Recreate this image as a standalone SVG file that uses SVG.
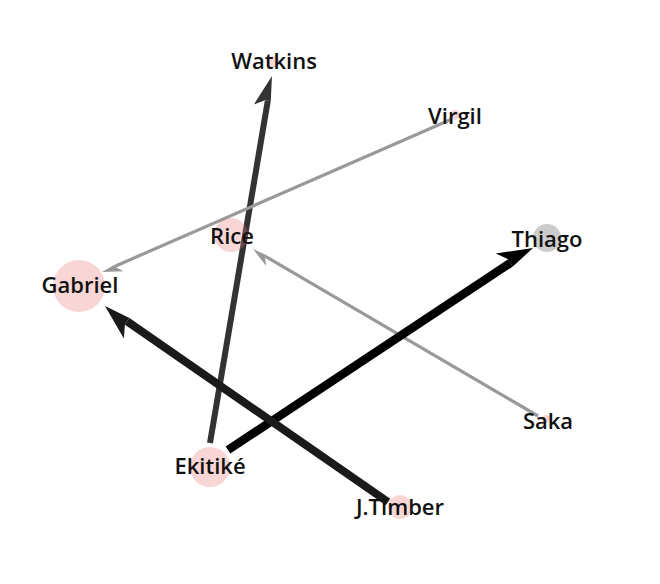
<svg xmlns="http://www.w3.org/2000/svg" width="660" height="584" viewBox="0 0 660 584">
<style>
.lbl{font-family:"Open Sans","Lato","Liberation Sans",sans-serif;font-size:22px;font-weight:600;fill:#111;text-anchor:middle}
.pink{fill:rgb(232,120,115);fill-opacity:0.3}
.grey{fill:#999;fill-opacity:0.5}
.e{fill:none;stroke-linecap:butt}
</style>
<defs>
<marker id="aDark" markerUnits="userSpaceOnUse" viewBox="-36 -18 38 36" refX="-25" refY="0" markerWidth="38" markerHeight="36" orient="auto">
<path d="M0,0 L-31,-13 L-25,-3 L-25,3 Z" fill="#333"/>
</marker>
<marker id="aBlack" markerUnits="userSpaceOnUse" viewBox="-38 -20 40 40" refX="-27" refY="0" markerWidth="40" markerHeight="40" orient="auto">
<path d="M0,0 L-34,-16 L-27,-4.3 L-27,4.3 Z" fill="#000"/>
</marker>
<marker id="aBlack2" markerUnits="userSpaceOnUse" viewBox="-38 -20 40 40" refX="-27" refY="0" markerWidth="40" markerHeight="40" orient="auto">
<path d="M0,0 L-34,-16 L-27,-4 L-27,4 Z" fill="#1a1a1a"/>
</marker>
<marker id="aGrey" markerUnits="userSpaceOnUse" viewBox="-24 -12 26 24" refX="-15" refY="0" markerWidth="26" markerHeight="24" orient="auto">
<path d="M0,0 L-20,-8 L-15,-1.7 L-15,1.7 Z" fill="#999"/>
</marker>
</defs>
<g id="edges">
<line class="e" x1="210" y1="443" x2="267.8" y2="100.65" stroke="#333" stroke-width="6" marker-end="url(#aDark)"/>
<line class="e" x1="452" y1="119" x2="115.7" y2="266" stroke="#999" stroke-width="3.2" marker-end="url(#aGrey)"/>
<line class="e" x1="538" y1="416" x2="265.9" y2="256.6" stroke="#999" stroke-width="3.2" marker-end="url(#aGrey)"/>
<line class="e" x1="228" y1="450" x2="510.5" y2="262.9" stroke="#000" stroke-width="8.5" marker-end="url(#aBlack)"/>
<line class="e" x1="388" y1="502" x2="127.2" y2="321.4" stroke="#1a1a1a" stroke-width="8" marker-end="url(#aBlack2)"/>
</g>
<g id="node-watkins"><circle class="pink" cx="273" cy="62" r="6"/><text class="lbl" x="274" y="69">Watkins</text></g>
<g id="node-virgil"><circle class="pink" cx="455" cy="115" r="5"/><text class="lbl" x="455" y="124">Virgil</text></g>
<g id="node-rice"><circle class="pink" cx="231" cy="235" r="17"/><text class="lbl" x="232" y="244">Rice</text></g>
<g id="node-gabriel"><circle class="pink" cx="79" cy="286" r="26"/><text class="lbl" x="80" y="293">Gabriel</text></g>
<g id="node-thiago"><circle class="grey" cx="547" cy="238" r="14"/><text class="lbl" x="547" y="247">Thiago</text></g>
<g id="node-saka"><circle class="pink" cx="546" cy="419" r="4"/><text class="lbl" x="548" y="429">Saka</text></g>
<g id="node-ekitike"><circle class="pink" cx="210" cy="467" r="20"/><text class="lbl" x="210" y="474">Ekitiké</text></g>
<g id="node-jtimber"><circle class="pink" cx="400" cy="507" r="12"/><text class="lbl" x="400" y="515">J.Timber</text></g>
</svg>
